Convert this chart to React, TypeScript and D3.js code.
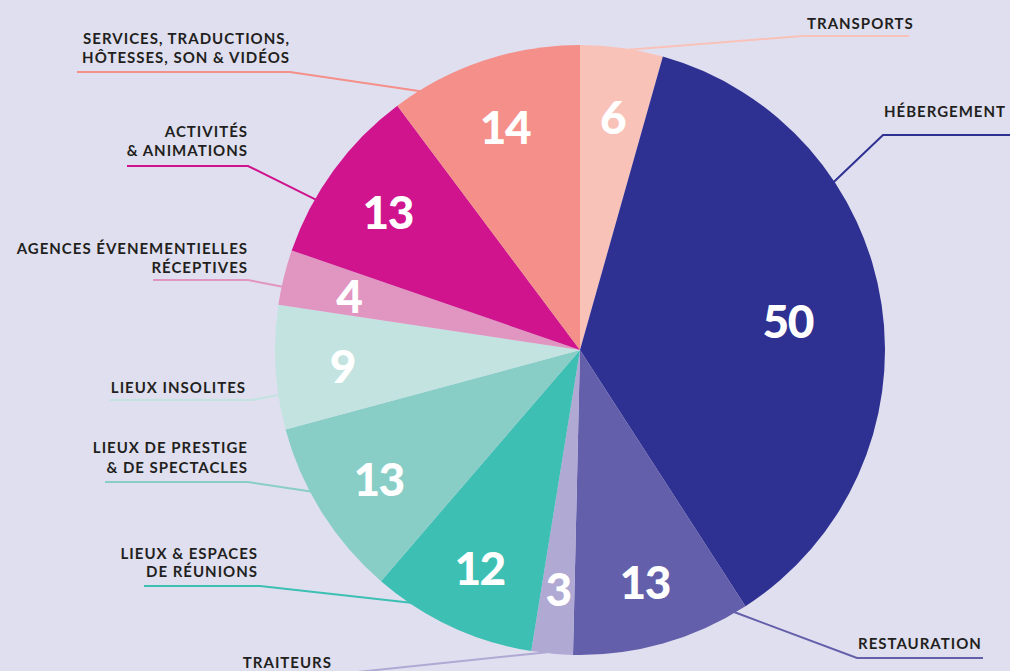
import React from "react";
import * as d3 from "d3";

const categories = [
  "TRANSPORTS",
  "HÉBERGEMENT",
  "RESTAURATION",
  "TRAITEURS",
  "LIEUX & ESPACES DE RÉUNIONS",
  "LIEUX DE PRESTIGE & DE SPECTACLES",
  "LIEUX INSOLITES",
  "AGENCES ÉVENEMENTIELLES RÉCEPTIVES",
  "ACTIVITÉS & ANIMATIONS",
  "SERVICES, TRADUCTIONS, HÔTESSES, SON & VIDÉOS",
];
const values = [6, 50, 13, 3, 12, 13, 9, 4, 13, 14];
const colors = [
  "#f9c2b9",
  "#2e3192",
  "#635faa",
  "#afa9d3",
  "#3dbfb3",
  "#88cec7",
  "#c2e3e0",
  "#e195c1",
  "#cf148d",
  "#f48f89",
];
const labelLines = [
  ["TRANSPORTS"],
  ["HÉBERGEMENT"],
  ["RESTAURATION"],
  ["TRAITEURS"],
  ["LIEUX & ESPACES", "DE RÉUNIONS"],
  ["LIEUX DE PRESTIGE", "& DE SPECTACLES"],
  ["LIEUX INSOLITES"],
  ["AGENCES ÉVENEMENTIELLES", "RÉCEPTIVES"],
  ["ACTIVITÉS", "& ANIMATIONS"],
  ["SERVICES, TRADUCTIONS,", "HÔTESSES, SON & VIDÉOS"],
];

// annotation layout (leader lines & label placement)
const layout = [
  { t: 0.58, anchor: "start", x: 807, y: [29], elbow: [803, 36], tail: 909 },
  { t: 0.31, anchor: "start", x: 884, y: [117], elbow: [883, 135], tail: 1012 },
  { t: 0.07, anchor: "start", x: 858, y: [649], elbow: [857, 658], tail: 983 },
  { t: 0.62, anchor: "end", x: 332, y: [668], elbow: [338, 674], tail: 248 },
  { t: 0.78, anchor: "end", x: 258, y: [559, 577], elbow: [260, 586], tail: 144 },
  { t: 0.63, anchor: "end", x: 248, y: [453, 473], elbow: [248, 482], tail: 105 },
  { t: 0.28, anchor: "end", x: 246, y: [393], elbow: [252, 400], tail: 110 },
  { t: 0.33, anchor: "end", x: 248, y: [254, 273], elbow: [248, 280], tail: 153 },
  { t: 0.31, anchor: "end", x: 248, y: [137, 156], elbow: [248, 166], tail: 127 },
  { t: 0.14, anchor: "end", x: 290, y: [44, 63], elbow: [290, 72], tail: 77 },
];

const W = 1010;
const H = 671;
const CX = 580;
const CY = 350;
const R = 305;

export default function App() {
  const pie = d3
    .pie<number>()
    .sort(null)
    .value((d) => d)
    .startAngle(0)
    .endAngle(2 * Math.PI);
  const arcs = pie(values);
  const arc = d3.arc<d3.PieArcDatum<number>>().innerRadius(0).outerRadius(R);

  return (
    <svg
      width={W}
      height={H}
      style={{ position: "absolute", left: 0, top: 0, display: "block" }}
    >
      <rect width={W} height={H} fill="#e0dff0" />
      {/* leader lines */}
      {arcs.map((d, i) => {
        const L = layout[i];
        const a = d.startAngle + L.t * (d.endAngle - d.startAngle);
        const px = CX + (R - 1) * Math.sin(a);
        const py = CY - (R - 1) * Math.cos(a);
        const path = d3.path();
        path.moveTo(px, py);
        path.lineTo(L.elbow[0], L.elbow[1]);
        path.lineTo(L.tail, L.elbow[1]);
        return (
          <path
            key={"l" + i}
            d={path.toString()}
            fill="none"
            stroke={colors[i]}
            strokeWidth={2}
          />
        );
      })}
      <g transform={`translate(${CX},${CY})`}>
        {arcs.map((d, i) => (
          <path key={"s" + i} d={arc(d) || ""} fill={colors[i]} />
        ))}
        {arcs.map((d, i) => {
          const lr = d.value > 40 ? 210 : 238;
          const c = d3
            .arc<d3.PieArcDatum<number>>()
            .innerRadius(lr)
            .outerRadius(lr)
            .centroid(d);
          return (
            <text
              key={"v" + i}
              x={c[0]}
              y={c[1] + 2}
              textAnchor="middle"
              dominantBaseline="central"
              fill="#ffffff"
              style={{
                fontFamily: "Lato, 'Open Sans', sans-serif",
                fontWeight: 900,
                fontSize: 46,
                letterSpacing: -1.5,
              }}
            >
              {d.value}
            </text>
          );
        })}
      </g>
      {/* category labels */}
      {labelLines.map((lines, i) => {
        const L = layout[i];
        return (
          <text
            key={"t" + i}
            textAnchor={L.anchor as any}
            fill="#231f20"
            style={{
              fontFamily: "Lato, 'Open Sans', sans-serif",
              fontWeight: 700,
              fontSize: 15,
              letterSpacing: 1.0,
            }}
          >
            {lines.map((ln, j) => (
              <tspan key={j} x={L.x} y={L.y[j]}>
                {ln}
              </tspan>
            ))}
          </text>
        );
      })}
    </svg>
  );
}
